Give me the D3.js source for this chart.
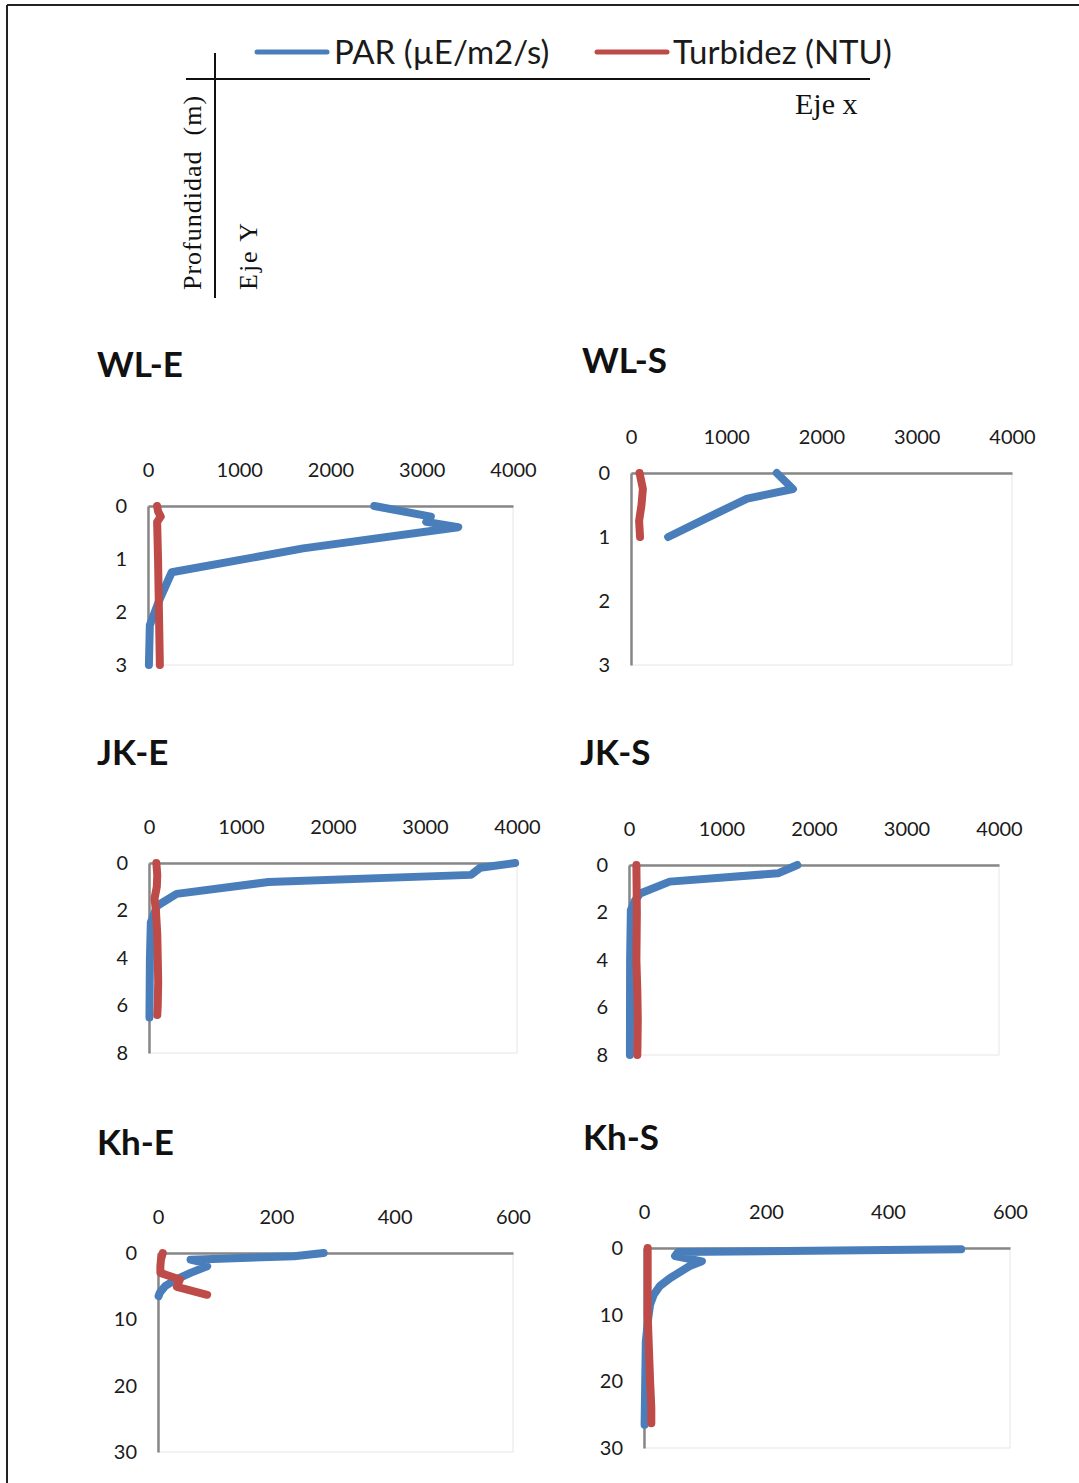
<!DOCTYPE html>
<html>
<head>
<meta charset="utf-8">
<script src="https://cdn.jsdelivr.net/npm/d3@7"></script>
<style>
  body { margin: 0; background: #fff; }
  svg { display: block; }
</style>
</head>
<body>
<svg id="chart" width="1079" height="1483"></svg>
<script>
// ---- data: depth profiles (m) of PAR (µE/m2/s) and turbidity (NTU) ----
const stations = ["WL-E", "WL-S", "JK-E", "JK-S", "Kh-E", "Kh-S"];

const xTicksHigh = [0, 1000, 2000, 3000, 4000];
const xTicksLow  = [0, 200, 400, 600];
const yTicksWL = [0, 1, 2, 3];
const yTicksJK = [0, 2, 4, 6, 8];
const yTicksKh = [0, 10, 20, 30];

const parDepthWLE = [0, 0.2, 0.3, 0.4, 0.8, 1.25, 1.75, 2.25, 3.0];
const parWLE      = [2480, 3100, 3050, 3400, 1700, 260, 130, 20, 10];
const turDepthWLE = [0, 0.1, 0.2, 0.3, 1.0, 2.0, 3.0];
const turWLE      = [100, 110, 140, 100, 110, 120, 130];

const parDepthWLS = [0, 0.25, 0.4, 0.7, 1.0];
const parWLS      = [1530, 1700, 1220, 800, 390];
const turDepthWLS = [0, 0.25, 0.5, 0.75, 1.0];
const turWLS      = [90, 125, 110, 85, 95];

const parDepthJKE = [0, 0.2, 0.5, 0.8, 1.3, 1.8, 2.5, 4.0, 6.5];
const parJKE      = [3980, 3600, 3500, 1300, 300, 90, 20, 10, 5];
const turDepthJKE = [0, 0.5, 1.0, 1.5, 2.0, 3.0, 4.0, 5.0, 6.0, 6.4];
const turJKE      = [80, 90, 85, 60, 75, 90, 95, 100, 95, 90];

const parDepthJKS = [0, 0.35, 0.7, 1.2, 1.5, 1.9, 4.0, 8.0];
const parJKS      = [1820, 1610, 440, 120, 65, 20, 12, 10];
const turDepthJKS = [0, 2.0, 4.0, 5.3, 6.5, 8.0];
const turJKS      = [80, 85, 80, 90, 95, 90];

const parDepthKhE = [0, 0.5, 1.0, 1.5, 2.0, 3.0, 4.0, 5.0, 6.0, 6.5];
const parKhE      = [280, 230, 55, 78, 83, 55, 30, 12, 3, 1];
const turDepthKhE = [0, 1.0, 2.0, 3.0, 4.0, 5.1, 6.3];
const turKhE      = [8, 5, 4, 4, 37, 32, 83];

const parDepthKhS = [0.2, 0.6, 1.2, 2.0, 2.7, 4.5, 5.7, 7.0, 8.5, 10.5, 14, 20, 26.5];
const parKhS      = [520, 56, 51, 95, 75, 43, 26, 16, 10, 7, 3, 2, 1];
const turDepthKhS = [0, 5, 10, 15, 20, 24, 26.3];
const turKhS      = [6, 6, 6, 8, 10, 12, 12];

const seriesNames = ["PAR (µE/m2/s)", "Turbidez (NTU)"];

// ---- layout ----
const BLUE = "#4a7ebb", RED = "#be4b48";
const SANS = "Lato, 'Open Sans', sans-serif";
const SERIF = "'Liberation Serif', 'DejaVu Serif', serif";

const panels = [
  { name: stations[0], xTicks: xTicksHigh, yTicks: yTicksWL, left: 148, top: 506, right: 513, bottom: 665, tx: 97, ty: 377,
    par: [parDepthWLE, parWLE], tur: [turDepthWLE, turWLE] },
  { name: stations[1], xTicks: xTicksHigh, yTicks: yTicksWL, left: 631, top: 473, right: 1012, bottom: 665, tx: 582, ty: 373,
    par: [parDepthWLS, parWLS], tur: [turDepthWLS, turWLS] },
  { name: stations[2], xTicks: xTicksHigh, yTicks: yTicksJK, left: 149, top: 863, right: 517, bottom: 1053, tx: 97, ty: 765,
    par: [parDepthJKE, parJKE], tur: [turDepthJKE, turJKE] },
  { name: stations[3], xTicks: xTicksHigh, yTicks: yTicksJK, left: 629, top: 865, right: 999, bottom: 1055, tx: 580, ty: 765,
    par: [parDepthJKS, parJKS], tur: [turDepthJKS, turJKS] },
  { name: stations[4], xTicks: xTicksLow, yTicks: yTicksKh, left: 158, top: 1253, right: 513, bottom: 1452, tx: 97, ty: 1155,
    par: [parDepthKhE, parKhE], tur: [turDepthKhE, turKhE] },
  { name: stations[5], xTicks: xTicksLow, yTicks: yTicksKh, left: 644, top: 1248, right: 1010, bottom: 1448, tx: 583, ty: 1150,
    par: [parDepthKhS, parKhS], tur: [turDepthKhS, turKhS] }
];

const svg = d3.select("#chart");

// page frame (top and left edges)
svg.append("line").attr("x1", 7).attr("y1", 5).attr("x2", 1079).attr("y2", 5)
  .attr("stroke", "#222").attr("stroke-width", 2);
svg.append("line").attr("x1", 7).attr("y1", 5).attr("x2", 7).attr("y2", 1483)
  .attr("stroke", "#222").attr("stroke-width", 2);

// ---- legend ----
const legendItems = [
  { label: seriesNames[0], color: BLUE, x0: 257, x1: 327, tx: 334 },
  { label: seriesNames[1], color: RED,  x0: 597, x1: 667, tx: 673 }
];
legendItems.forEach(it => {
  svg.append("line").attr("x1", it.x0).attr("x2", it.x1).attr("y1", 52).attr("y2", 52)
    .attr("stroke", it.color).attr("stroke-width", 5).attr("stroke-linecap", "round");
  svg.append("text").attr("x", it.tx).attr("y", 64).text(it.label)
    .attr("font-family", SANS).attr("font-size", 33).attr("fill", "#1a1a1a");
});

// ---- axis-orientation key ----
svg.append("line").attr("x1", 186).attr("x2", 870).attr("y1", 79).attr("y2", 79)
  .attr("stroke", "#111").attr("stroke-width", 2);
svg.append("line").attr("x1", 215).attr("x2", 215).attr("y1", 53).attr("y2", 298)
  .attr("stroke", "#111").attr("stroke-width", 2);
svg.append("text").attr("x", 795).attr("y", 114).text("Eje x")
  .attr("font-family", SERIF).attr("font-size", 30).attr("fill", "#111");
svg.append("text").attr("transform", "translate(201,290) rotate(-90)")
  .attr("xml:space", "preserve").style("white-space", "pre")
  .text("Profundidad  (m)")
  .attr("font-family", SERIF).attr("font-size", 26).attr("letter-spacing", 1).attr("fill", "#111");
svg.append("text").attr("transform", "translate(257,290) rotate(-90)")
  .text("Eje Y")
  .attr("font-family", SERIF).attr("font-size", 26).attr("letter-spacing", 2).attr("fill", "#111");

// ---- panels ----
panels.forEach(p => {
  const x = d3.scaleLinear().domain([p.xTicks[0], p.xTicks[p.xTicks.length - 1]]).range([p.left, p.right]);
  const y = d3.scaleLinear().domain([p.yTicks[0], p.yTicks[p.yTicks.length - 1]]).range([p.top, p.bottom]);
  const g = svg.append("g");

  // station title
  g.append("text").attr("x", p.tx).attr("y", p.ty).text(p.name)
    .attr("font-family", SANS).attr("font-weight", 700).attr("font-size", 35).attr("fill", "#111");

  // plot-area frame
  g.append("rect").attr("x", p.left).attr("y", p.top)
    .attr("width", p.right - p.left).attr("height", p.bottom - p.top)
    .attr("fill", "none").attr("stroke", "#e6e6e6").attr("stroke-width", 1);

  const styleAxis = sel => {
    sel.select(".domain").attr("stroke", "#878787").attr("stroke-width", 2.5);
    sel.selectAll(".tick line").remove();
    sel.selectAll("text").attr("font-family", SANS).attr("font-size", 20).attr("fill", "#1a1a1a");
  };

  g.append("g").attr("transform", `translate(0,${p.top})`)
    .call(d3.axisTop(x).tickValues(p.xTicks).tickSize(0).tickPadding(29).tickFormat(d3.format("d")))
    .call(styleAxis);
  g.append("g").attr("transform", `translate(${p.left},0)`)
    .call(d3.axisLeft(y).tickValues(p.yTicks).tickSize(0).tickPadding(21).tickFormat(d3.format("d")))
    .call(styleAxis);

  const line = d3.line().x(d => x(d[1])).y(d => y(d[0]));
  const draw = (arr, color) => g.append("path")
    .datum(d3.zip(arr[0], arr[1]))
    .attr("d", line)
    .attr("fill", "none").attr("stroke", color).attr("stroke-width", 8)
    .attr("stroke-linecap", "round").attr("stroke-linejoin", "round");
  draw(p.par, BLUE);
  draw(p.tur, RED);
});
</script>
</body>
</html>
